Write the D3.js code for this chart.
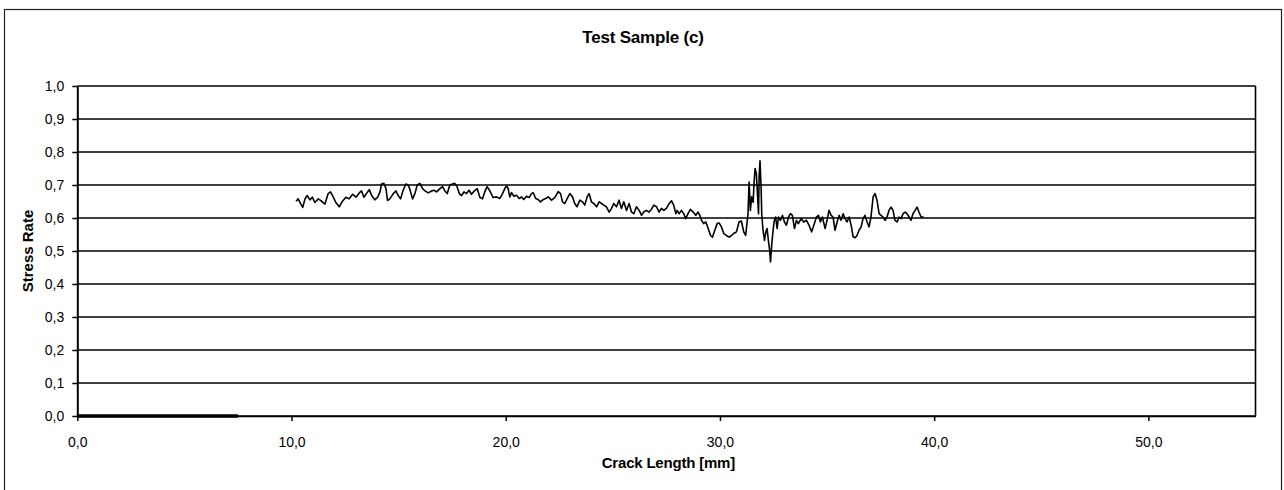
<!DOCTYPE html>
<html>
<head>
<meta charset="utf-8">
<script src="https://cdn.jsdelivr.net/npm/d3@7"></script>
<style>
  body { margin: 0; background: #fff; }
  text { font-family: "Liberation Sans", Arial, sans-serif; fill: #000; }
</style>
</head>
<body>
<div id="my-chart"></div>
<script>

// crack length [mm]
var crackLength = [
  10.21,10.31,10.42,10.52,10.63,10.73,10.86,10.97,11.09,11.25,
  11.40,11.56,11.71,11.82,11.95,12.07,12.23,12.38,12.54,12.69,
  12.85,13.01,13.16,13.27,13.38,13.50,13.63,13.74,13.89,14.02,
  14.13,14.20,14.31,14.41,14.48,14.59,14.75,14.87,14.98,15.09,
  15.21,15.34,15.45,15.53,15.65,15.76,15.87,15.99,16.12,16.23,
  16.38,16.54,16.65,16.77,16.93,17.05,17.16,17.27,17.39,17.52,
  17.62,17.73,17.83,17.94,18.05,18.17,18.29,18.40,18.53,18.67,
  18.79,18.92,19.02,19.13,19.26,
  19.41,19.57,19.72,19.85,19.96,20.04,20.11,20.19,20.27,20.38,
  20.50,20.63,20.74,20.84,20.97,21.09,21.20,21.28,21.40,21.51,
  21.62,21.75,21.87,21.98,22.14,22.29,22.45,22.56,22.65,22.76,
  22.87,22.99,23.12,23.22,23.33,23.46,23.58,23.69,23.80,23.89,
  24.00,24.11,24.24,24.36,24.47,24.58,24.70,24.83,24.94,25.04,
  25.17,25.29,25.40,25.51,25.64,25.76,25.87,25.98,26.10,26.23,
  26.34,26.44,26.57,26.69,26.80,26.91,27.04,27.16,27.27,27.38,
  27.50,27.63,27.74,27.84,27.94,28.00,28.09,28.20,28.31,28.40,
  28.51,28.62,28.75,28.87,28.98,
  29.06,29.14,29.24,29.34,29.45,29.56,29.65,29.76,29.87,29.96,
  30.07,30.18,30.30,30.43,30.54,30.64,30.77,30.89,31.00,31.11,
  31.20,31.31,31.36,31.42,31.48,31.55,31.59,31.64,31.70,31.75,
  31.80,31.83,31.87,31.92,31.95,32.01,32.08,32.14,32.20,32.26,
  32.32,32.36,32.42,32.48,32.54,32.60,32.67,32.73,32.82,32.92,
  33.01,33.10,33.20,33.29,33.38,33.48,33.57,33.66,33.79,33.91,
  34.04,34.16,34.28,34.41,34.50,34.60,34.69,34.78,34.91,35.00,
  35.09,35.19,35.28,35.37,35.47,35.56,35.65,35.75,35.84,35.93,
  36.03,36.14,36.21,36.31,36.40,36.49,36.59,36.68,36.77,36.87,
  36.96,37.05,37.15,37.24,37.33,37.43,37.52,37.61,37.71,37.80,
  37.89,37.99,38.08,38.17,38.27,38.36,38.45,38.55,38.64,38.73,
  38.83,38.92,39.01,39.11,39.20,39.29,39.39,39.51
];

// stress rate at each crack length
var stressRate = [
  0.651,0.658,0.644,0.632,0.658,0.668,0.655,0.663,0.647,0.658,
  0.651,0.642,0.674,0.679,0.663,0.647,0.634,0.651,0.663,0.658,
  0.672,0.663,0.676,0.682,0.663,0.674,0.686,0.668,0.655,0.663,
  0.679,0.703,0.705,0.689,0.653,0.658,0.674,0.682,0.668,0.658,
  0.684,0.703,0.700,0.686,0.658,0.674,0.700,0.705,0.689,0.682,
  0.676,0.682,0.684,0.679,0.689,0.695,0.682,0.674,0.700,0.703,
  0.705,0.695,0.674,0.668,0.679,0.674,0.684,0.672,0.682,0.689,
  0.663,0.658,0.679,0.695,0.682,
  0.662,0.664,0.659,0.674,0.690,0.697,0.690,0.664,0.677,0.666,
  0.669,0.659,0.664,0.656,0.666,0.662,0.674,0.677,0.659,0.656,
  0.649,0.656,0.659,0.664,0.654,0.662,0.680,0.674,0.649,0.644,
  0.659,0.674,0.664,0.644,0.634,0.654,0.649,0.639,0.664,0.674,
  0.649,0.644,0.634,0.649,0.644,0.639,0.634,0.618,0.629,0.644,
  0.634,0.654,0.629,0.649,0.623,0.644,0.618,0.613,0.634,0.623,
  0.608,0.618,0.623,0.618,0.626,0.639,0.634,0.618,0.629,0.623,
  0.629,0.644,0.652,0.639,0.613,0.623,0.613,0.623,0.613,0.598,
  0.613,0.626,0.618,0.608,0.618,
  0.608,0.593,0.583,0.588,0.568,0.547,0.542,0.563,0.583,0.585,
  0.573,0.553,0.547,0.542,0.547,0.553,0.558,0.588,0.591,0.558,
  0.547,0.613,0.709,0.623,0.664,0.648,0.704,0.750,0.734,0.674,
  0.613,0.729,0.773,0.694,0.613,0.563,0.532,0.558,0.568,0.532,
  0.502,0.467,0.522,0.563,0.593,0.603,0.568,0.603,0.593,0.608,
  0.588,0.578,0.603,0.613,0.608,0.568,0.593,0.583,0.598,0.588,
  0.593,0.578,0.558,0.583,0.603,0.608,0.588,0.603,0.568,0.593,
  0.623,0.608,0.603,0.563,0.588,0.608,0.593,0.613,0.598,0.588,
  0.603,0.573,0.544,0.540,0.547,0.563,0.573,0.598,0.608,0.588,
  0.573,0.603,0.664,0.674,0.654,0.613,0.608,0.603,0.593,0.603,
  0.623,0.633,0.623,0.593,0.588,0.603,0.598,0.613,0.618,0.613,
  0.603,0.593,0.613,0.623,0.633,0.618,0.603,0.603
];

// second (flat) series sitting on the x axis at the start
var baseLength = [0, 7.5];
var baseRate = [0, 0];

var xTicks = [0, 10, 20, 30, 40, 50];
var yTicks = [0, 0.1, 0.2, 0.3, 0.4, 0.5, 0.6, 0.7, 0.8, 0.9, 1.0];

var chartTitle = 'Test Sample (c)';
var xTitle = 'Crack Length [mm]';
var yTitle = 'Stress Rate';

// dimensions of the page and the plot area
var fullWidth = 1284, fullHeight = 490;
var margin = {top: 86, right: 28.5, bottom: 74, left: 77.3},
width = fullWidth - margin.left - margin.right,
height = fullHeight - margin.top - margin.bottom;

// numbers use a comma as decimal sign
var fmt = d3.formatLocale({decimal: ',', thousands: '.', grouping: [3], currency: ['', '']}).format('.1f');

var root = d3.select('#my-chart')
    .append('svg')
    .attr('width', fullWidth)
    .attr('height', fullHeight);

// outer chart border
root.append('rect')
    .attr('x', 4.5).attr('y', 9.5)
    .attr('width', 1277).attr('height', 485)
    .attr('fill', 'none')
    .attr('stroke', '#222')
    .attr('stroke-width', 1.2);

root.append('text')
    .attr('x', 643).attr('y', 43)
    .attr('text-anchor', 'middle')
    .attr('font-size', 17)
    .attr('font-weight', 'bold')
    .attr('letter-spacing', -0.2)
    .text(chartTitle);

var svg = root.append('g')
    .attr('transform', 'translate(' + margin.left + ',' + margin.top + ')');

var x = d3.scaleLinear().domain([0, 55]).range([0, width]);
var y = d3.scaleLinear().domain([0, 1]).range([height, 0]);

// horizontal gridlines
svg.append('g')
    .selectAll('line')
    .data(yTicks)
    .join('line')
    .attr('x1', 0).attr('x2', width)
    .attr('y1', function(d) { return y(d); })
    .attr('y2', function(d) { return y(d); })
    .attr('stroke', '#000')
    .attr('stroke-width', 1.6);

// right edge of plot
svg.append('line')
    .attr('x1', width).attr('x2', width)
    .attr('y1', 0).attr('y2', height)
    .attr('stroke', '#000')
    .attr('stroke-width', 1.6);

// x axis
var xAxis = svg.append('g')
    .attr('transform', 'translate(0,' + height + ')')
    .call(d3.axisBottom(x).tickValues(xTicks).tickFormat(fmt).tickSize(5).tickSizeOuter(0));
xAxis.select('.domain').attr('stroke', '#000').attr('stroke-width', 1.6);
xAxis.selectAll('.tick line').attr('stroke', '#000').attr('stroke-width', 1.5);
xAxis.selectAll('.tick text')
    .attr('font-size', 14)
    .attr('font-family', '"Liberation Sans", Arial, sans-serif')
    .attr('dy', null)
    .attr('y', 31);

// y axis
var yAxis = svg.append('g')
    .call(d3.axisLeft(y).tickValues(yTicks).tickFormat(fmt).tickSize(5).tickSizeOuter(0));
yAxis.select('.domain').attr('stroke', '#000').attr('stroke-width', 2);
yAxis.selectAll('.tick line').attr('stroke', '#000').attr('stroke-width', 1.5);
yAxis.selectAll('.tick text')
    .attr('font-size', 14)
    .attr('font-family', '"Liberation Sans", Arial, sans-serif')
    .attr('x', -13);

// axis titles
svg.append('text')
    .attr('x', width / 2 + 2)
    .attr('y', height + 52)
    .attr('text-anchor', 'middle')
    .attr('font-size', 15)
    .attr('font-weight', 'bold')
    .attr('letter-spacing', -0.2)
    .text(xTitle);

svg.append('text')
    .attr('transform', 'translate(' + (33 - margin.left) + ',' + (height / 2) + ') rotate(-90)')
    .attr('text-anchor', 'middle')
    .attr('font-size', 15)
    .attr('font-weight', 'bold')
    .text(yTitle);

var line = d3.line()
    .x(function(d) { return x(d[0]); })
    .y(function(d) { return y(d[1]); });

// flat base series
svg.append('path')
    .datum(d3.zip(baseLength, baseRate))
    .attr('fill', 'none')
    .attr('stroke', '#000')
    .attr('stroke-width', 3.5)
    .attr('d', line);

// measured stress rate
svg.append('path')
    .datum(d3.zip(crackLength, stressRate))
    .attr('fill', 'none')
    .attr('stroke', '#000')
    .attr('stroke-width', 1.6)
    .attr('stroke-linejoin', 'round')
    .attr('d', line);

</script>
</body>
</html>
